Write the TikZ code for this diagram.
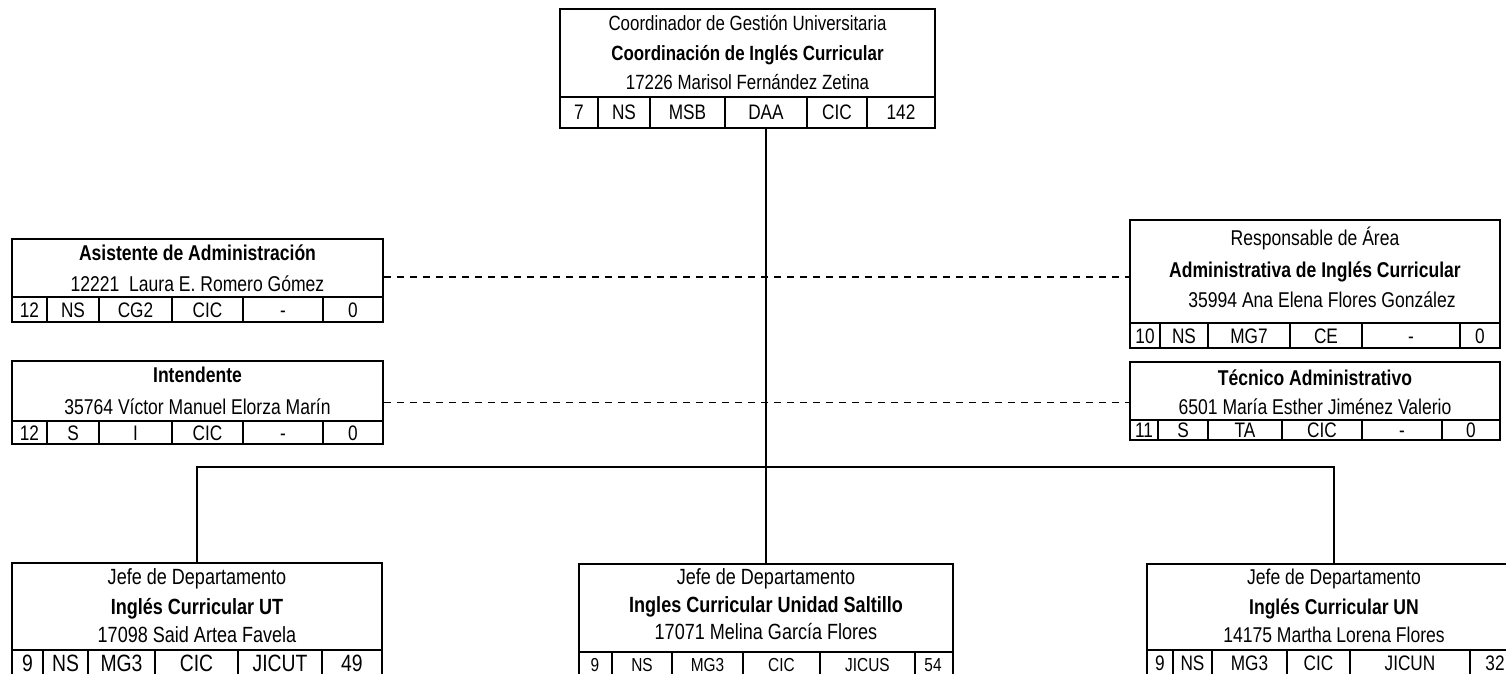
\documentclass[tikz,border=0pt]{standalone}
\usepackage{fontspec}
\setmainfont{Liberation Sans}[FakeStretch=0.82]
\usetikzlibrary{fit}
\tikzset{
 boxst/.style={draw, line width=1.3pt, inner sep=0pt},
 divst/.style={line width=1pt},
 conn/.style={line width=0.85pt},
 dashconn/.style={line width=0.85pt, dash pattern=on 3.5pt off 3pt},
 txt/.style={inner sep=0pt, text height=7.7pt, text depth=0pt, font=\fontsize{10.7}{12}\selectfont},
 btxt/.style={txt, font=\fontsize{10.7}{12}\selectfont\bfseries},
 ttxt/.style={inner sep=0pt, text height=7.4pt, text depth=0pt, font=\fontsize{10.3}{12}\selectfont},
 tbtxt/.style={ttxt, font=\fontsize{10.3}{12}\selectfont\bfseries},
 gtxt/.style={inner sep=0pt, text height=7.9pt, text depth=0pt, font=\fontsize{11}{12}\selectfont},
 gbtxt/.style={gtxt, font=\fontsize{11}{12}\selectfont\bfseries},
 cell/.style={inner sep=0pt, text height=7.5pt, text depth=0pt, font=\fontsize{10.5}{12}\selectfont},
 bigcell/.style={inner sep=0pt, text height=8.4pt, text depth=0pt, font=\fontsize{11.8}{12}\selectfont},
 smallcell/.style={inner sep=0pt, text height=6.7pt, text depth=0pt, font=\fontsize{9.4}{10}\selectfont},
}
\newcommand\orgframe[6]{%
  \node[boxst, fit={(#2,#3) (#4,#6)}] (#1) {};
  \draw[divst] (#2,#5) -- (#4,#5);
}
\begin{document}
\begin{tikzpicture}[x=0.5pt,y=-0.5pt]
\useasboundingbox (0,0) rectangle (1506,674);
\clip (0,0) rectangle (1506,674);
\fill[white] (0,0) rectangle (1506,674);

% ---------- top box
\orgframe{top}{560}{9}{935}{97}{128}
\foreach \xx in {598,650,725,807,867} \draw[divst] (\xx,97) -- (\xx,128);
\node[ttxt]  (top-a) at (747.5,23) {Coordinador de Gestión Universitaria};
\node[tbtxt] (top-b) at (747.5,53) {Coordinación de Inglés Curricular};
\node[ttxt]  (top-c) at (747.5,82) {17226 Marisol Fernández Zetina};
\foreach \xx/\cc [count=\i] in {579/7,624/NS,687.5/MSB,766/DAA,837/CIC,901/142}
  \node[cell] (top-\i) at (\xx,112.5) {\cc};

% ---------- Asistente
\orgframe{asis}{12}{239}{383}{297}{322}
\foreach \xx in {47,99,172,243,323} \draw[divst] (\xx,297) -- (\xx,322);
\node[btxt] (asis-a) at (197.5,253) {Asistente de Administración};
\node[txt]  (asis-b) at (197.5,284) {12221\ \ Laura E. Romero Gómez};
\foreach \xx/\cc [count=\i] in {29.5/12,73/NS,135.5/CG2,207.5/CIC,283/-,353/0}
  \node[cell] (asis-\i) at (\xx,310) {\cc};

% ---------- Intendente
\orgframe{inte}{12}{361}{383}{421}{444}
\foreach \xx in {47,99,172,243,323} \draw[divst] (\xx,421) -- (\xx,444);
\node[btxt] (inte-a) at (197.5,375) {Intendente};
\node[txt]  (inte-b) at (197.5,407) {35764 Víctor Manuel Elorza Marín};
\foreach \xx/\cc [count=\i] in {29.5/12,73/S,135.5/I,207.5/CIC,283/-,353/0}
  \node[cell] (inte-\i) at (\xx,432.5) {\cc};

% ---------- Responsable
\orgframe{resp}{1130}{220}{1500}{323}{348}
\foreach \xx in {1160,1208,1290,1362,1460} \draw[divst] (\xx,323) -- (\xx,348);
\node[txt]  (resp-a) at (1315,238) {Responsable de Área};
\node[btxt] (resp-b) at (1315,270) {Administrativa de Inglés Curricular};
\node[txt]  (resp-c) at (1322,300) {35994 Ana Elena Flores González};
\foreach \xx/\cc [count=\i] in {1145/10,1184/NS,1249/MG7,1326/CE,1411/-,1480/0}
  \node[cell] (resp-\i) at (\xx,336) {\cc};

% ---------- Tecnico
\orgframe{tecn}{1130}{362}{1500}{420}{440}
\foreach \xx in {1158,1208,1282,1362,1442} \draw[divst] (\xx,420) -- (\xx,440);
\node[btxt] (tecn-a) at (1315,378) {Técnico Administrativo};
\node[txt]  (tecn-b) at (1315,407) {6501 María Esther Jiménez Valerio};
\foreach \xx/\cc [count=\i] in {1144/11,1183/S,1245/TA,1322/CIC,1402/-,1471/0}
  \node[cell] (tecn-\i) at (\xx,430) {\cc};

% ---------- bottom left
\orgframe{bl}{12}{563}{382}{650}{678}
\foreach \xx in {43,88,155,238,322} \draw[divst] (\xx,650) -- (\xx,678);
\node[gtxt]  (bl-a) at (197,577) {Jefe de Departamento};
\node[gbtxt] (bl-b) at (197,607) {Inglés Curricular UT};
\node[gtxt]  (bl-c) at (197,635) {17098 Said Artea Favela};
\foreach \xx/\cc [count=\i] in {27.5/9,65.5/NS,121.5/MG3,196.5/CIC,280/JICUT,352/49}
  \node[bigcell] (bl-\i) at (\xx,663) {\cc};

% ---------- bottom middle
\orgframe{bm}{579}{564}{953}{652}{678}
\foreach \xx in {612,672,743,820,915} \draw[divst] (\xx,652) -- (\xx,678);
\node[gtxt]  (bm-a) at (766,577) {Jefe de Departamento};
\node[gbtxt] (bm-b) at (766,605) {Ingles Curricular Unidad Saltillo};
\node[gtxt]  (bm-c) at (766,632) {17071 Melina García Flores};
\foreach \xx/\cc [count=\i] in {595/9,642/NS,707.5/MG3,781.5/CIC,867.5/JICUS,933/54}
  \node[smallcell] (bm-\i) at (\xx,665) {\cc};

% ---------- bottom right
\orgframe{br}{1147}{564}{1521}{650}{678}
\foreach \xx in {1173,1212,1287,1350,1470} \draw[divst] (\xx,650) -- (\xx,678);
\node[txt]  (br-a) at (1334,577) {Jefe de Departamento};
\node[btxt] (br-b) at (1334,607) {Inglés Curricular UN};
\node[txt]  (br-c) at (1334,635) {14175 Martha Lorena Flores};
\foreach \xx/\cc [count=\i] in {1160/9,1192.5/NS,1249.5/MG3,1318.5/CIC,1410/JICUN,1495/32}
  \node[cell] (br-\i) at (\xx,663) {\cc};

% ---------- connectors
\coordinate (hub) at (766,467);
\draw[conn] (bm.north) -- (bm.north |- top.south);
\draw[conn] (bl.north) |- (hub) -| (br.north);
\draw[dashconn] ([yshift=1.75pt]asis.east) -- ([yshift=1.75pt]asis.east -| resp.west);
\draw[dashconn] (inte.east) -- (inte.east -| tecn.west);
\end{tikzpicture}
\end{document}
